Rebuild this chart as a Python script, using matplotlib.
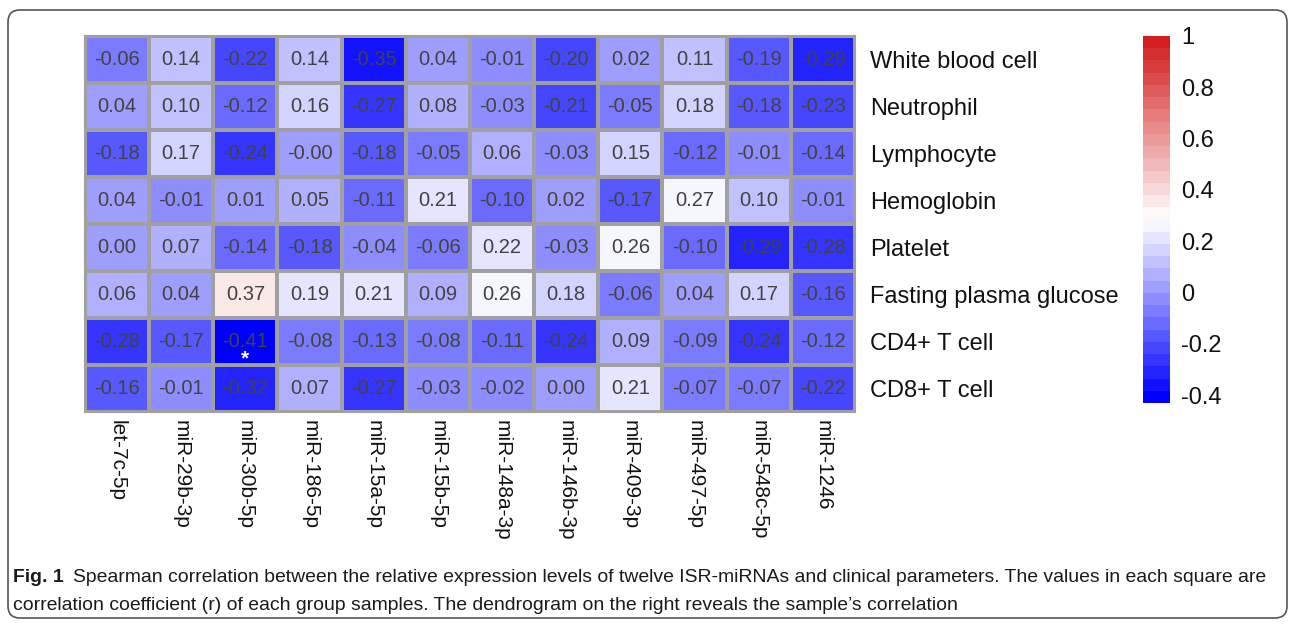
import numpy as np
import matplotlib
matplotlib.use("Agg")
import matplotlib.pyplot as plt
from matplotlib.colors import LinearSegmentedColormap
from matplotlib.patches import FancyBboxPatch
from matplotlib.transforms import IdentityTransform

mirnas = ["let-7c-5p", "miR-29b-3p", "miR-30b-5p", "miR-186-5p", "miR-15a-5p",
          "miR-15b-5p", "miR-148a-3p", "miR-146b-3p", "miR-409-3p", "miR-497-5p",
          "miR-548c-5p", "miR-1246"]
params = ["White blood cell", "Neutrophil", "Lymphocyte", "Hemoglobin", "Platelet",
          "Fasting plasma glucose", "CD4+ T cell", "CD8+ T cell"]

wbc = [-0.06, 0.14, -0.22, 0.14, -0.35, 0.04, -0.01, -0.20, 0.02, 0.11, -0.19, -0.29]
neutrophil = [0.04, 0.10, -0.12, 0.16, -0.27, 0.08, -0.03, -0.21, -0.05, 0.18, -0.18, -0.23]
lymphocyte = [-0.18, 0.17, -0.24, -0.0, -0.18, -0.05, 0.06, -0.03, 0.15, -0.12, -0.01, -0.14]
hemoglobin = [0.04, -0.01, 0.01, 0.05, -0.11, 0.21, -0.10, 0.02, -0.17, 0.27, 0.10, -0.01]
platelet = [0.00, 0.07, -0.14, -0.18, -0.04, -0.06, 0.22, -0.03, 0.26, -0.10, -0.29, -0.28]
fpg = [0.06, 0.04, 0.37, 0.19, 0.21, 0.09, 0.26, 0.18, -0.06, 0.04, 0.17, -0.16]
cd4 = [-0.28, -0.17, -0.41, -0.08, -0.13, -0.08, -0.11, -0.24, 0.09, -0.09, -0.24, -0.12]
cd8 = [-0.16, -0.01, -0.32, 0.07, -0.27, -0.03, -0.02, 0.00, 0.21, -0.07, -0.07, -0.22]

# cells marked with an asterisk (row, col)
starred = [(6, 2)]
faint_starred = [(5, 2)]

cbar_ticks = [-0.4, -0.2, 0, 0.2, 0.4, 0.6, 0.8, 1]
cbar_labels = ["-0.4", "-0.2", "0", "0.2", "0.4", "0.6", "0.8", "1"]

caption_head = "Fig. 1"
caption_1 = ("Spearman correlation between the relative expression levels of twelve ISR-miRNAs "
             "and clinical parameters. The values in each square are")
caption_2 = ("correlation coefficient (r) of each group samples. The dendrogram on the right "
             "reveals the sample\u2019s correlation")

data = np.array([wbc, neutrophil, lymphocyte, hemoglobin, platelet, fpg, cd4, cd8])

plt.rcParams['font.family'] = ['Liberation Sans', 'DejaVu Sans']

W, H = 1295, 628
fig = plt.figure(figsize=(W / 100, H / 100), dpi=100)
fig.patch.set_facecolor("white")

cmap = LinearSegmentedColormap.from_list("bwr_r", ["#0000ff", "#ffffff", "#d21e1e"], N=30)
vmin, vmax = -0.43, 1.0

ax = fig.add_axes([85 / W, 1 - 412 / H, (855 - 85) / W, (412 - 36) / H])
mesh = ax.pcolormesh(data, cmap=cmap, vmin=vmin, vmax=vmax,
                     edgecolors="#a0a0a0", linewidth=1.5)
ax.set_xlim(0, len(mirnas))
ax.set_ylim(len(params), 0)
for s in ax.spines.values():
    s.set_color("#a0a0a0")
    s.set_linewidth(1.5)

for i in range(data.shape[0]):
    for j in range(data.shape[1]):
        ax.text(j + 0.5, i + 0.5, f"{data[i, j]:.2f}", ha="center", va="center",
                fontsize=14.5, color="#424242")
for i, j in starred:
    ax.text(j + 0.5, i + 0.88, "*", ha="center", va="center", fontsize=15,
            color="white", fontweight="bold")
for i, j in faint_starred:
    ax.text(j + 0.5, i + 0.88, "*", ha="center", va="center", fontsize=15,
            color="#f4ece8", fontweight="bold")

ax.set_xticks(np.arange(len(mirnas)) + 0.5)
ax.set_xticklabels(mirnas, rotation=270, fontsize=15, color="#111111",
                   va="top", ha="center")
ax.set_yticks(np.arange(len(params)) + 0.5)
ax.set_yticklabels(params, fontsize=17, color="#111111")
ax.yaxis.tick_right()
ax.tick_params(axis="x", length=0, pad=6)
ax.tick_params(axis="y", length=0, pad=11)

cax = fig.add_axes([1143 / W, 1 - 403 / H, 27 / W, (403 - 36) / H])
cb = fig.colorbar(mesh, cax=cax)
cb.outline.set_visible(False)
cb.set_ticks(cbar_ticks)
cb.set_ticklabels(cbar_labels)
cax.tick_params(length=0, labelsize=17, pad=8, colors="#111111")

# frame around figure + caption
frame = FancyBboxPatch((8, H - 618), 1279, 608,
                       boxstyle="round,pad=0,rounding_size=12",
                       transform=IdentityTransform(), fill=False,
                       edgecolor="#555555", linewidth=1.2)
fig.patches.append(frame)

cap_size = 14
t1 = fig.text(13 / W, 1 - 578 / H, caption_head, fontsize=cap_size, fontweight="bold",
              va="center", color="#1a1a1a")
fig.canvas.draw()
bb = t1.get_window_extent()
t2 = fig.text((bb.x1 + 9) / W, 1 - 578 / H, caption_1,
              fontsize=cap_size, va="center", color="#1a1a1a")
fig.canvas.draw()
# squeeze caption font so that line 1 ends near the right frame
scale = (1274 - 13) / (t2.get_window_extent().x1 - 13)
cap_size = cap_size * scale
t1.set_fontsize(cap_size)
fig.canvas.draw()
t2.set_fontsize(cap_size)
t2.set_x((t1.get_window_extent().x1 + 9) / W)
fig.text(13 / W, 1 - 605 / H, caption_2,
         fontsize=cap_size, va="center", color="#1a1a1a")

fig.savefig("out.png", dpi=100)
